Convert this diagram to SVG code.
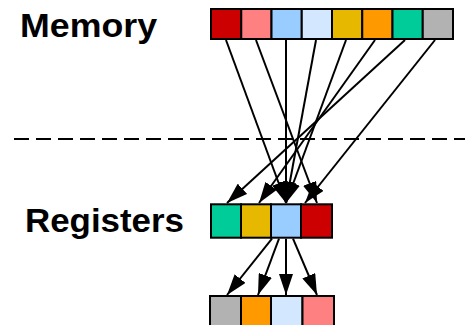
<svg xmlns="http://www.w3.org/2000/svg" width="465" height="325" viewBox="0 0 465 325">
  <style>
    .cell { stroke: #000; stroke-width: 2; }
    .lbl { font-family: "Liberation Sans", Arial, sans-serif; font-weight: bold; font-size: 34px; fill: #000; }
    .conn { stroke: #000; stroke-width: 2; fill: none; marker-end: url(#ah); }
    .red { fill: #CC0000; } .pink { fill: #FF8080; } .blue { fill: #99CCFF; } .lblue { fill: #D3E7FF; }
    .yellow { fill: #E6B800; } .orange { fill: #FF9900; } .green { fill: #00CC99; } .grey { fill: #B2B2B2; }
  </style>
  <defs>
    <marker id="ah" viewBox="0 0 21 14" refX="21" refY="7" markerWidth="21" markerHeight="14" markerUnits="userSpaceOnUse" orient="auto">
      <path d="M0,0 L21,7 L0,14 z" fill="#000"/>
    </marker>
  </defs>
  <rect width="465" height="325" fill="#fff"/>

  <g id="label-memory"><text class="lbl" x="20" y="36.7" textLength="137" lengthAdjust="spacingAndGlyphs">Memory</text></g>
  <g id="label-registers"><text class="lbl" x="25" y="231.7" textLength="159" lengthAdjust="spacingAndGlyphs">Registers</text></g>

  <line id="divider" x1="14" y1="139" x2="465" y2="139" stroke="#000" stroke-width="2" stroke-dasharray="15 7"/>

  <g id="memory">
    <rect class="cell red" x="211" y="9" width="30.25" height="30"/>
    <rect class="cell pink" x="241.25" y="9" width="30.25" height="30"/>
    <rect class="cell blue" x="271.5" y="9" width="30.25" height="30"/>
    <rect class="cell lblue" x="301.75" y="9" width="30.25" height="30"/>
    <rect class="cell yellow" x="332" y="9" width="30.25" height="30"/>
    <rect class="cell orange" x="362.25" y="9" width="30.25" height="30"/>
    <rect class="cell green" x="392.5" y="9" width="30.25" height="30"/>
    <rect class="cell grey" x="422.75" y="9" width="30.25" height="30"/>
  </g>

  <g id="registers">
    <rect class="cell green" x="211" y="204.3" width="30" height="33.4"/>
    <rect class="cell yellow" x="241" y="204.3" width="30" height="33.4"/>
    <rect class="cell blue" x="271" y="204.3" width="30" height="33.4"/>
    <rect class="cell red" x="301" y="204.3" width="31" height="33.4"/>
  </g>

  <g id="result">
    <rect class="cell grey" x="210" y="296" width="31" height="34"/>
    <rect class="cell orange" x="241" y="296" width="30" height="34"/>
    <rect class="cell lblue" x="271" y="296" width="31.5" height="34"/>
    <rect class="cell pink" x="302.5" y="296" width="31.5" height="34"/>
  </g>

  <g id="connectors">
    <line class="conn" x1="226" y1="40" x2="286" y2="203"/>
    <line class="conn" x1="256" y1="40" x2="317" y2="203"/>
    <line class="conn" x1="286" y1="40" x2="286" y2="203"/>
    <line class="conn" x1="316" y1="40" x2="286" y2="203"/>
    <line class="conn" x1="346" y1="40" x2="286" y2="203"/>
    <line class="conn" x1="375" y1="40" x2="259" y2="203"/>
    <line class="conn" x1="405" y1="40" x2="227" y2="203"/>
    <line class="conn" x1="435" y1="40" x2="305" y2="203"/>
    <line class="conn" x1="272" y1="238.7" x2="227" y2="295"/>
    <line class="conn" x1="279" y1="238.7" x2="258" y2="295"/>
    <line class="conn" x1="286" y1="238.7" x2="286" y2="295"/>
    <line class="conn" x1="293" y1="238.7" x2="317" y2="295"/>
  </g>
</svg>
